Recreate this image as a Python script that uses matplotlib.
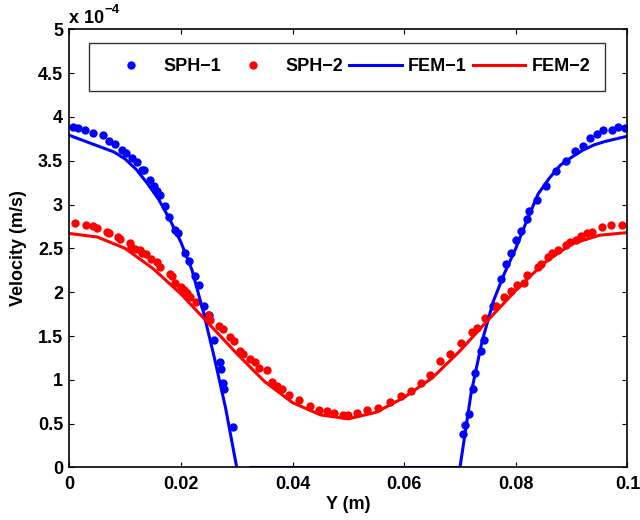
import numpy as np
import matplotlib
matplotlib.use("Agg")
import matplotlib.pyplot as plt

plt.rcParams['font.family'] = ['Liberation Sans', 'DejaVu Sans']
plt.rcParams['font.weight'] = 'bold'

# SPH-1 (values in units of 1e-4 m/s)
sph1_x = [0.0006, 0.0016, 0.0028, 0.0043, 0.0060, 0.0072, 0.0082, 0.0094, 0.0102, 0.0112,
          0.0121, 0.0131, 0.0134, 0.0145, 0.0152, 0.0157, 0.0163, 0.0172, 0.0179, 0.0189,
          0.0194, 0.0208, 0.0215, 0.0225, 0.0232, 0.0241, 0.0251, 0.0259, 0.0270, 0.0271,
          0.0276, 0.0278, 0.0294,
          0.0706, 0.0709, 0.0717, 0.0723, 0.0727, 0.0737, 0.0743, 0.0760, 0.0773, 0.0783,
          0.0792, 0.0801, 0.0809, 0.0820, 0.0824, 0.0838, 0.0854, 0.0872, 0.0890, 0.0906,
          0.0920, 0.0933, 0.0945, 0.0957, 0.0972, 0.0984, 0.0996]
sph1_v = [3.88, 3.87, 3.85, 3.82, 3.79, 3.73, 3.69, 3.62, 3.59, 3.53,
          3.49, 3.40, 3.39, 3.28, 3.21, 3.16, 3.11, 2.98, 2.86, 2.71,
          2.67, 2.45, 2.36, 2.18, 2.08, 1.84, 1.74, 1.45, 1.20, 1.12,
          0.96, 0.90, 0.46,
          0.38, 0.49, 0.61, 0.90, 1.08, 1.33, 1.46, 1.84, 2.15, 2.32,
          2.45, 2.59, 2.70, 2.83, 2.93, 3.05, 3.21, 3.38, 3.50, 3.61,
          3.67, 3.76, 3.81, 3.85, 3.85, 3.88, 3.87]

# SPH-2
sph2_x = [0.0010, 0.0030, 0.0042, 0.0050, 0.0067, 0.0072, 0.0088, 0.0091, 0.0109, 0.0111,
          0.0118, 0.0127, 0.0130, 0.0138, 0.0146, 0.0157, 0.0163, 0.0181, 0.0184, 0.0189,
          0.0201, 0.0206, 0.0210, 0.0216, 0.0227, 0.0249, 0.0252, 0.0269, 0.0276, 0.0288,
          0.0295, 0.0306, 0.0312, 0.0323, 0.0333, 0.0339, 0.0354, 0.0363, 0.0372, 0.0382,
          0.0393, 0.0412, 0.0431, 0.0448, 0.0461, 0.0474, 0.0490, 0.0500, 0.0515, 0.0533,
          0.0554, 0.0575, 0.0594, 0.0612, 0.0630, 0.0646, 0.0664, 0.0682, 0.0701, 0.0721,
          0.0730, 0.0745, 0.0765, 0.0779, 0.0791, 0.0803, 0.0814, 0.0821, 0.0839, 0.0845,
          0.0857, 0.0865, 0.0875, 0.0890, 0.0897, 0.0908, 0.0916, 0.0927, 0.0936, 0.0954,
          0.0971, 0.0990]
sph2_v = [2.79, 2.77, 2.75, 2.73, 2.69, 2.67, 2.63, 2.61, 2.56, 2.52,
          2.49, 2.48, 2.45, 2.44, 2.38, 2.34, 2.29, 2.21, 2.18, 2.11,
          2.06, 2.03, 1.99, 1.94, 1.89, 1.74, 1.68, 1.62, 1.58, 1.49,
          1.44, 1.33, 1.30, 1.24, 1.20, 1.14, 1.11, 0.98, 0.93, 0.89,
          0.83, 0.77, 0.70, 0.66, 0.64, 0.62, 0.60, 0.60, 0.62, 0.66,
          0.68, 0.75, 0.81, 0.87, 0.96, 1.06, 1.21, 1.30, 1.42, 1.55,
          1.59, 1.70, 1.84, 1.95, 2.01, 2.08, 2.10, 2.20, 2.29, 2.32,
          2.40, 2.45, 2.48, 2.54, 2.57, 2.60, 2.64, 2.67, 2.69, 2.74,
          2.77, 2.77]

# FEM-1 (gap between 0.030 and 0.0325)
fem1_x = [0.0, 0.008, 0.010, 0.012, 0.014, 0.016, 0.018, 0.020, 0.022, 0.024, 0.026, 0.028, 0.030,
          np.nan, 0.0325, 0.070, 0.072, 0.074, 0.076, 0.078, 0.080, 0.082, 0.084, 0.086, 0.088,
          0.090, 0.092, 0.094, 0.096, 0.098, 0.100]
fem1_v = [3.79, 3.60, 3.52, 3.40, 3.24, 3.06, 2.83, 2.57, 2.25, 1.78, 1.25, 0.68, 0.0,
          np.nan, 0.0, 0.0, 0.85, 1.45, 1.90, 2.22, 2.50, 2.82, 3.12, 3.30, 3.45,
          3.54, 3.62, 3.68, 3.72, 3.75, 3.78]

# FEM-2
fem2_x = [0.000, 0.005, 0.010, 0.015, 0.020, 0.025, 0.030, 0.035, 0.040, 0.045, 0.050,
          0.055, 0.060, 0.065, 0.070, 0.075, 0.080, 0.085, 0.090, 0.095, 0.100]
fem2_v = [2.67, 2.63, 2.50, 2.27, 1.98, 1.64, 1.30, 0.98, 0.74, 0.60, 0.555,
          0.63, 0.80, 1.02, 1.33, 1.68, 2.02, 2.33, 2.55, 2.65, 2.68]

xticks = [0, 0.02, 0.04, 0.06, 0.08, 0.1]
xticklabels = ['0', '0.02', '0.04', '0.06', '0.08', '0.1']
yticks = [0, 0.5, 1, 1.5, 2, 2.5, 3, 3.5, 4, 4.5, 5]
yticklabels = ['0', '0.5', '1', '1.5', '2', '2.5', '3', '3.5', '4', '4.5', '5']

fs = 13
fig = plt.figure(figsize=(6.4, 5.2), dpi=100)
ax = fig.add_axes([0.1083, 0.101, 0.872, 0.8427])

ax.plot(sph1_x, sph1_v, 'o', color='#0000ff', markersize=6, markeredgewidth=0, label='SPH\u22121')
ax.plot(sph2_x, sph2_v, 'o', color='#ff0000', markersize=6, markeredgewidth=0, label='SPH\u22122')
ax.plot(fem1_x, fem1_v, '-', color='#0000ff', linewidth=2.2, label='FEM\u22121')
ax.plot(fem2_x, fem2_v, '-', color='#ff0000', linewidth=2.2, label='FEM\u22122')

ax.set_xlim(0, 0.1)
ax.set_ylim(0, 5)
ax.set_xticks(xticks)
ax.set_xticklabels(xticklabels)
ax.set_yticks(yticks)
ax.set_yticklabels(yticklabels)
ax.tick_params(direction='in', top=True, right=True, length=3.6, width=0.8,
               labelsize=fs)
ax.tick_params(axis='x', pad=6.0)
ax.tick_params(axis='y', pad=4.5)
for lab in ax.get_xticklabels() + ax.get_yticklabels():
    lab.set_fontweight('bold')
for s in ax.spines.values():
    s.set_linewidth(1.2)

ax.set_xlabel('Y (m)', fontsize=fs, fontweight='bold')
ax.set_ylabel('Velocity (m/s)', fontsize=fs, fontweight='bold')
ax.xaxis.set_label_coords(0.5, -0.064)
ax.yaxis.set_label_coords(-0.075, 0.5)

ax.text(0.0, 1.0151, 'x 10', transform=ax.transAxes, fontsize=fs, fontweight='bold',
        ha='left', va='baseline')
ax.text(0.0625, 1.037, '\u22124', transform=ax.transAxes, fontsize=9.5, fontweight='bold',
        ha='left', va='baseline')

leg = ax.legend(loc='lower left', bbox_to_anchor=(0.0358, 0.860, 0.9248, 0.110),
                ncol=4, mode='expand', fontsize=fs, frameon=True, fancybox=False,
                handlelength=2.9, handletextpad=0.35, columnspacing=0.6,
                borderpad=0.85, borderaxespad=0.0, numpoints=1)
leg.get_frame().set_edgecolor('black')
leg.get_frame().set_linewidth(1.0)
for t in leg.get_texts():
    t.set_fontweight('bold')

fig.savefig('out.png', dpi=100)
